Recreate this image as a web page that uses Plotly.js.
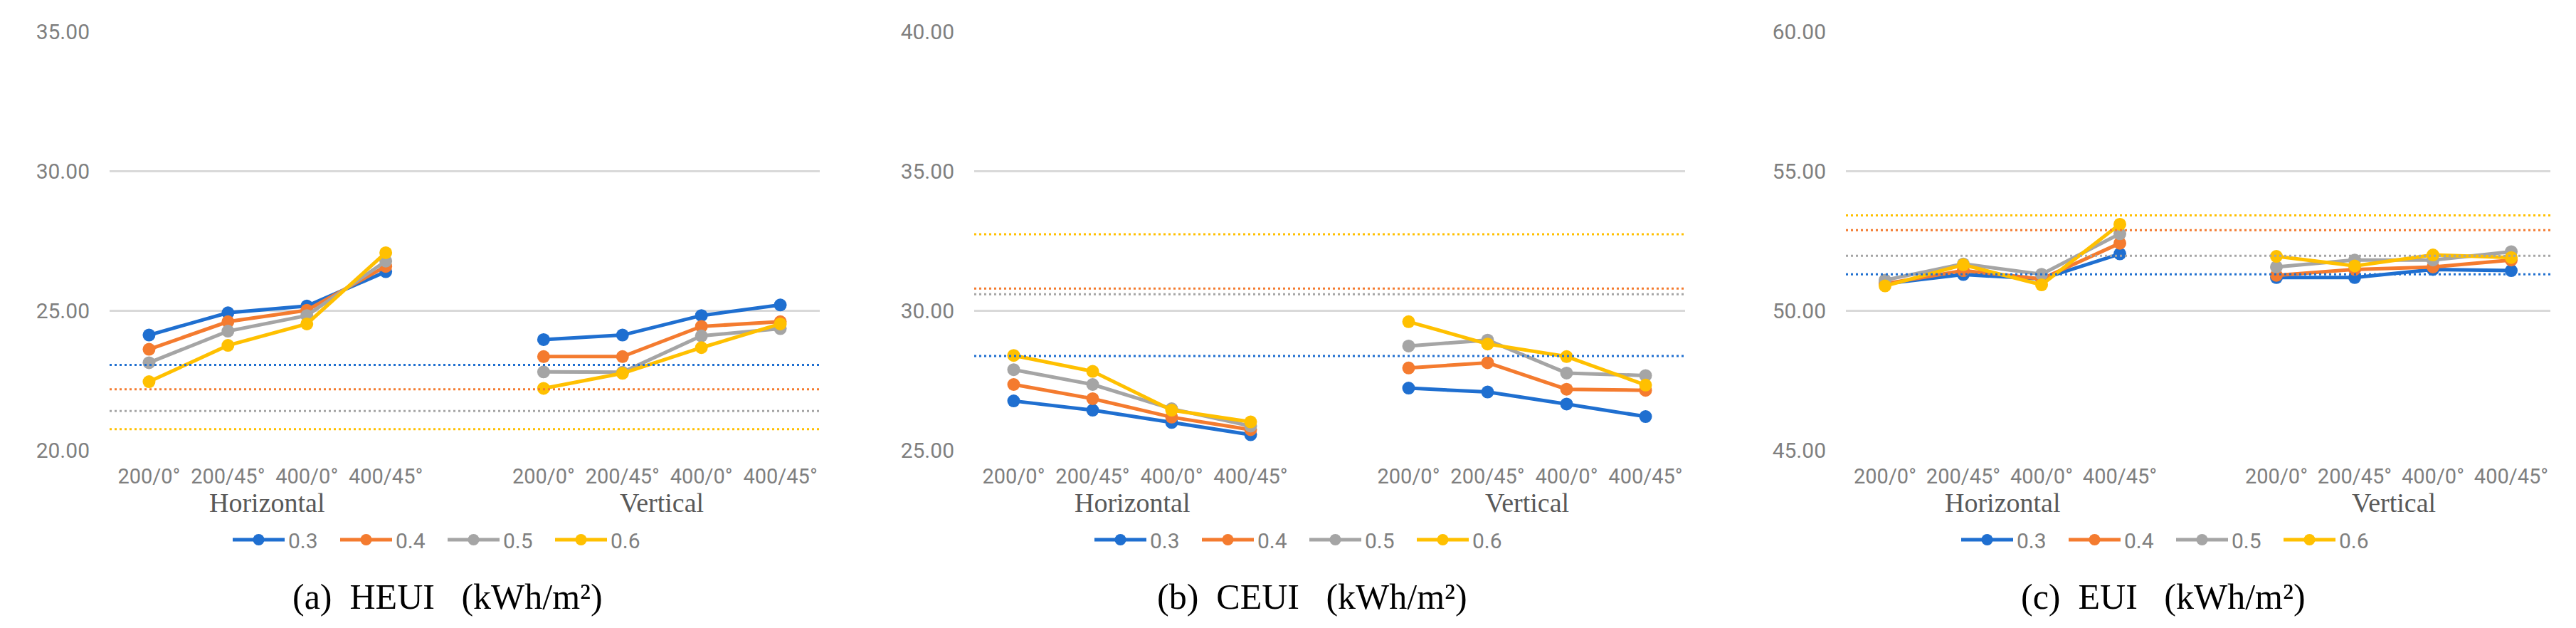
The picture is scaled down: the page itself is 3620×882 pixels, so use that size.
<!DOCTYPE html>
<html>
<head>
<meta charset="utf-8">
<script src="https://cdn.plot.ly/plotly-3.0.1.min.js"></script>
<style>html,body{margin:0;padding:0;background:#fff;}</style>
</head>
<body>
<div id="chart" style="width:3620px;height:882px;"></div>
<script>
// ---------- data ----------
const categories = ['200/0°', '200/45°', '400/0°', '400/45°'];
const groups = ['Horizontal', 'Vertical'];
const seriesNames = ['0.3', '0.4', '0.5', '0.6'];
const panelTitles = ['(a)\u00a0\u00a0HEUI\u00a0\u00a0\u00a0(kWh/m²)', '(b)\u00a0\u00a0CEUI\u00a0\u00a0\u00a0(kWh/m²)', '(c)\u00a0\u00a0EUI\u00a0\u00a0\u00a0(kWh/m²)'];
const yTickVals = [[20, 25, 30, 35], [25, 30, 35, 40], [45, 50, 55, 60]];

// values: Horizontal (4) then Vertical (4)
const heui03 = [24.13, 24.93, 25.17, 26.40, 23.97, 24.13, 24.83, 25.21];
const heui04 = [23.62, 24.61, 25.02, 26.59, 23.36, 23.36, 24.44, 24.61];
const heui05 = [23.14, 24.27, 24.83, 26.78, 22.81, 22.80, 24.10, 24.36];
const heui06 = [22.46, 23.76, 24.53, 27.08, 22.22, 22.76, 23.68, 24.53];
const heuiRef = [23.06, 22.19, 21.41, 20.76];

const ceui03 = [26.77, 26.44, 26.00, 25.56, 27.23, 27.09, 26.66, 26.21];
const ceui04 = [27.36, 26.85, 26.19, 25.74, 27.95, 28.14, 27.19, 27.15];
const ceui05 = [27.89, 27.36, 26.49, 25.87, 28.74, 28.95, 27.77, 27.68];
const ceui06 = [28.40, 27.83, 26.44, 26.02, 29.61, 28.81, 28.36, 27.34];
const ceuiRef = [28.38, 30.80, 30.59, 32.74];

const eui03 = [50.97, 51.30, 51.14, 52.04, 51.19, 51.19, 51.48, 51.44];
const eui04 = [50.97, 51.44, 51.14, 52.42, 51.27, 51.48, 51.57, 51.82];
const eui05 = [51.10, 51.68, 51.31, 52.76, 51.57, 51.82, 51.82, 52.12];
const eui06 = [50.89, 51.65, 50.93, 53.10, 51.95, 51.61, 52.00, 51.91];
const euiRef = [51.31, 52.89, 51.97, 53.42];

// ---------- styling ----------
const colors = ['#1f6fd0', '#f47b2f', '#a5a5a5', '#ffc000'];
const W = 3620, H = 882;
const plotX = [[154, 1152], [1369, 2368], [2594, 3584]];
const titleX = [629, 1844, 3040];
const legendX = [624, 1835, 3053];
const plotTop = 44.5, plotBottom = 632.5;
const sans = 'Roboto, "Liberation Sans", sans-serif';
const serif = '"Liberation Serif", "DejaVu Serif", serif';
const tickColor = '#7f7f7f';

const panelData = [
  {series: [heui03, heui04, heui05, heui06], ref: heuiRef},
  {series: [ceui03, ceui04, ceui05, ceui06], ref: ceuiRef},
  {series: [eui03, eui04, eui05, eui06], ref: euiRef}
];

// slots: Horizontal 0..3, blank 4, Vertical 5..8
const nC = categories.length;
const slots = [];
const tickText = [];
groups.forEach((g, gi) => {
  categories.forEach((c, ci) => { slots.push(gi * (nC + 1) + ci); tickText.push(c); });
});
const xSlots = [];
for (let i = 0; i < groups.length * (nC + 1) - 1; i++) xSlots.push(i);

function toYArray(vals) {
  const out = [];
  xSlots.forEach(s => {
    const idx = slots.indexOf(s);
    out.push(idx >= 0 ? vals[idx] : null);
  });
  return out;
}

const traces = [];
const shapes = [];
const annotations = [];
const layout = {
  width: W, height: H,
  margin: {l: 0, r: 0, t: 0, b: 0, autoexpand: false},
  paper_bgcolor: '#ffffff', plot_bgcolor: '#ffffff',
  showlegend: true,
  shapes: shapes, annotations: annotations
};

panelData.forEach((pd, p) => {
  const xa = p === 0 ? 'x' : 'x' + (p + 1);
  const ya = p === 0 ? 'y' : 'y' + (p + 1);
  const lg = p === 0 ? 'legend' : 'legend' + (p + 1);
  pd.series.forEach((vals, s) => {
    traces.push({
      type: 'scatter', mode: 'lines+markers',
      x: xSlots, y: toYArray(vals), connectgaps: false,
      xaxis: xa, yaxis: ya, legend: lg,
      name: seriesNames[s],
      line: {color: colors[s], width: 5},
      marker: {color: colors[s], size: 18},
      hoverinfo: 'skip'
    });
  });
  pd.ref.forEach((v, s) => {
    shapes.push({
      type: 'line', xref: xa + ' domain', yref: ya,
      x0: 0, x1: 1, y0: v, y1: v, layer: 'above',
      line: {color: colors[s], width: 3, dash: '3px,4px'}
    });
  });
  const ticks = yTickVals[p];
  layout[p === 0 ? 'xaxis' : 'xaxis' + (p + 1)] = {
    domain: [plotX[p][0] / W, plotX[p][1] / W],
    anchor: ya,
    range: [-0.5, xSlots.length - 0.5],
    tickmode: 'array', tickvals: slots, ticktext: tickText,
    showgrid: false, zeroline: false, showline: false, ticks: '',
    ticklabelstandoff: 16,
    tickfont: {family: sans, size: 29, color: tickColor},
    fixedrange: true
  };
  layout[p === 0 ? 'yaxis' : 'yaxis' + (p + 1)] = {
    domain: [1 - plotBottom / H, 1 - plotTop / H],
    anchor: xa,
    range: [ticks[0], ticks[ticks.length - 1]],
    tickmode: 'array', tickvals: ticks, tickformat: '.2f',
    showgrid: true, gridcolor: '#d9d9d9', gridwidth: 2.5,
    zeroline: false, showline: false, ticks: '',
    ticklabelstandoff: 27,
    tickfont: {family: sans, size: 30, color: tickColor},
    fixedrange: true
  };
  layout[lg] = {
    orientation: 'h', x: legendX[p] / W, xanchor: 'center',
    y: 1 - 758 / H, yanchor: 'middle',
    font: {family: sans, size: 30, color: tickColor},
    itemwidth: 73, entrywidth: 63, entrywidthmode: 'pixels',
    bgcolor: 'rgba(0,0,0,0)', traceorder: 'normal'
  };
  groups.forEach((g, gi) => {
    const gSlots = slots.slice(gi * nC, gi * nC + nC);
    annotations.push({
      xref: xa, yref: 'paper', x: (gSlots[0] + gSlots[gSlots.length - 1]) / 2,
      y: 1 - 706 / H, xanchor: 'center', yanchor: 'middle', showarrow: false,
      text: g, font: {family: serif, size: 38, color: '#595959'}
    });
  });
  annotations.push({
    xref: 'paper', yref: 'paper', x: titleX[p] / W, y: 1 - 838 / H,
    xanchor: 'center', yanchor: 'middle', showarrow: false,
    text: panelTitles[p], font: {family: serif, size: 50, color: '#000000'}
  });
});

Plotly.newPlot('chart', traces, layout, {staticPlot: true, displayModeBar: false});
</script>
</body>
</html>
